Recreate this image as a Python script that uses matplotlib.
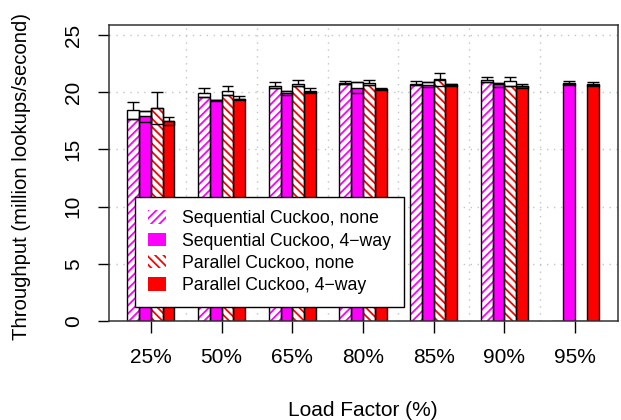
import matplotlib
matplotlib.use("Agg")
import matplotlib.pyplot as plt
from matplotlib.patches import Patch
import numpy as np

plt.rcParams['font.family'] = ['Liberation Sans', 'DejaVu Sans']
plt.rcParams['hatch.linewidth'] = 1.3

categories = ["25%", "50%", "65%", "80%", "85%", "90%", "95%"]
series_names = ["Sequential Cuckoo, none", "Sequential Cuckoo, 4\u2212way",
                "Parallel Cuckoo, none", "Parallel Cuckoo, 4\u2212way"]

# bar heights
seq_none_mean = [17.70, 19.60, 20.34, 20.70, 20.60, 20.85, 0.0]
seq_4way_mean = [17.90, 19.30, 19.95, 20.35, 20.60, 20.70, 20.70]
par_none_mean = [18.65, 19.75, 20.50, 20.60, 21.10, 20.55, 0.0]
par_4way_mean = [17.45, 19.40, 20.05, 20.25, 20.60, 20.50, 20.60]

# box lower / upper edges
seq_none_lo = [17.70, 19.60, 20.34, 20.70, 20.60, 20.85, 0.0]
seq_none_hi = [18.45, 19.95, 20.54, 20.80, 20.75, 21.07, 0.0]
seq_4way_lo = [17.40, 19.25, 19.75, 19.90, 20.48, 20.45, 20.60]
seq_4way_hi = [18.40, 19.35, 20.10, 20.87, 20.92, 20.80, 20.80]
par_none_lo = [17.20, 19.75, 20.50, 20.60, 20.55, 20.55, 0.0]
par_none_hi = [18.65, 20.15, 20.69, 20.80, 21.13, 21.00, 0.0]
par_4way_lo = [17.10, 19.30, 19.90, 20.20, 20.50, 20.40, 20.50]
par_4way_hi = [17.50, 19.45, 20.10, 20.30, 20.70, 20.55, 20.70]

# whisker tops
seq_none_max = [19.15, 20.40, 20.92, 21.00, 20.95, 21.35, 0.0]
seq_4way_max = [18.40, 19.35, 20.10, 20.90, 20.92, 20.80, 20.95]
par_none_max = [20.00, 20.55, 21.07, 21.05, 21.70, 21.35, 0.0]
par_4way_max = [17.85, 19.65, 20.40, 20.40, 20.72, 20.70, 20.85]

means = [seq_none_mean, seq_4way_mean, par_none_mean, par_4way_mean]
los = [seq_none_lo, seq_4way_lo, par_none_lo, par_4way_lo]
his = [seq_none_hi, seq_4way_hi, par_none_hi, par_4way_hi]
maxs = [seq_none_max, seq_4way_max, par_none_max, par_4way_max]

colors = ["#FF00FF", "#FF00FF", "#FF0000", "#FF0000"]
hatches = ["////", None, "\\\\\\\\", None]

fig = plt.figure(figsize=(6.21, 4.2), dpi=100)
ax = fig.add_axes([108.5 / 621, (420 - 321) / 420, 509 / 621, (321 - 24.5) / 420])

n = len(categories)
group_w = 6
centers = np.arange(n) * group_w + 4.0

# grid
grid_kw = dict(color="#c4c4c4", linestyle=(0, (1, 4)), linewidth=1.0, zorder=0)
for yv in [5, 10, 15, 20, 25]:
    ax.axhline(yv, **grid_kw)
for xv in (centers[:-1] + centers[1:]) / 2:
    ax.axvline(xv, **grid_kw)

for s in range(4):
    xs = np.arange(n) * group_w + 2 + s + 0.5
    m = np.array(means[s])
    if hatches[s]:
        ax.bar(xs, m, width=1.0, facecolor="white", edgecolor=colors[s],
               hatch=hatches[s], linewidth=0, zorder=2)
    else:
        ax.bar(xs, m, width=1.0, facecolor=colors[s], linewidth=0, zorder=2)
    ax.bar(xs, m, width=1.0, fill=False, edgecolor="black", linewidth=1.0, zorder=2.5)
    lo = np.array(los[s]); hi = np.array(his[s]); mx = np.array(maxs[s])
    ok = m > 0
    ax.bar(xs[ok], (hi - lo)[ok], bottom=lo[ok], width=1.0, fill=False,
           edgecolor="black", linewidth=1.0, zorder=3)
    ax.vlines(xs[ok], hi[ok], mx[ok], color="black", linewidth=1.0, zorder=3)
    ax.hlines(mx[ok], xs[ok] - 0.5, xs[ok] + 0.5, color="black", linewidth=1.0, zorder=3)

ax.set_xlim(0.4, 43.6)
ax.set_ylim(0, 25.92)
ax.set_xticks(centers)
ax.set_xticklabels(categories, fontsize=15)
ax.set_yticks([0, 5, 10, 15, 20, 25])
ax.set_yticklabels(["0", "5", "10", "15", "20", "25"], fontsize=15, rotation=90, va="center")
ax.tick_params(axis="x", length=8.6, width=1.0, pad=10.5)
ax.tick_params(axis="y", length=8.0, width=1.0, pad=10.5)
for sp in ax.spines.values():
    sp.set_color("#333333")
    sp.set_linewidth(1.1)

fig.text(362.5 / 621, 1 - 410 / 420, "Load Factor (%)", fontsize=15, ha="center", va="center")
fig.text(22 / 621, 1 - 176 / 420, "Throughput (million lookups/second)", fontsize=14.6,
         ha="center", va="center", rotation=90)

handles = []
for s in range(4):
    if hatches[s]:
        handles.append(Patch(facecolor="white", edgecolor=colors[s], hatch=hatches[s], linewidth=0))
    else:
        handles.append(Patch(facecolor=colors[s], edgecolor=colors[s], linewidth=0))
leg = ax.legend(handles, series_names, loc="upper left",
                bbox_to_anchor=((135 - 108.5) / 509, (321 - 197) / 296.5),
                fontsize=12.7, frameon=True, fancybox=False, framealpha=1,
                edgecolor="black", borderpad=0.75, labelspacing=0.3,
                handlelength=1.0, handleheight=0.8, handletextpad=0.9,
                borderaxespad=0)
leg.get_frame().set_linewidth(1.0)
leg.set_zorder(5)

fig.savefig("out.png", dpi=100)
